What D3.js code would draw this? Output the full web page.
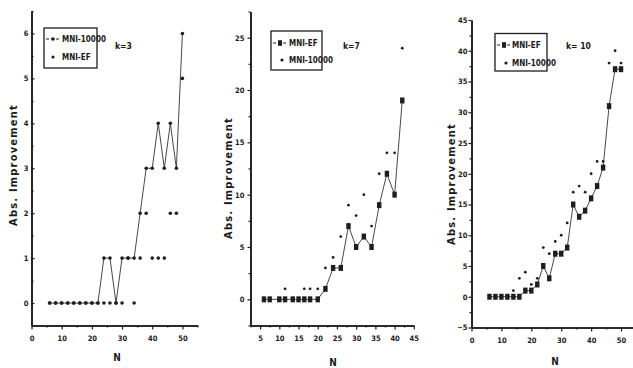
<!DOCTYPE html>
<html><head><meta charset="utf-8">
<script src="https://cdn.jsdelivr.net/npm/d3@7"></script>
<style>
html,body{margin:0;padding:0;background:#fff;}
svg text{font-family:"Liberation Sans Narrow","DejaVu Sans Condensed","Liberation Sans",sans-serif;font-weight:bold;fill:#1a1a1a;}
</style></head>
<body>
<svg id="chart" width="633" height="368"></svg>
<script>
// ---------- DATA ----------
// Panel k=3
const k3X = [6,8,10,12,14,16,18,20,22,24,26,28,30,32,34,36,38,40,42,44,46,48,50];
const k3MNI10000 = [0,0,0,0,0,0,0,0,0,1,1,0,1,1,1,2,3,3,4,3,4,3,6];
const k3MNIEF    = [0,0,0,0,0,0,0,0,0,0,0,0,0,1,0,1,2,1,1,1,2,2,5];
const k3Legend = ["MNI-10000","MNI-EF"];

// Panel k=7
const k7LineX = [6,7.5,10,11.5,13.5,15,16.5,18,20,22,24,26,28,30,32,34,36,38,40,42];
const k7MNIEF = [0,0,0,0,0,0,0,0,0,1,3,3,7,5,6,5,9,12,10,19];
const k7DotX  = [6,7.5,10,11.5,13.5,15,16.5,18,20,22,24,26,28,30,32,34,36,38,40,42];
const k7MNI10000 = [0,0,0,1,0,0,1,1,1,3,4,6,9,8,10,7,12,14,14,24];
const k7Legend = ["MNI-EF","MNI-10000"];

// Panel k=10
const k10X = [6,8,10,12,14,16,18,20,22,24,26,28,30,32,34,36,38,40,42,44,46,48,50];
const k10MNIEF    = [0,0,0,0,0,0,1,1,2,5,3,7,7,8,15,13,14,16,18,21,31,37,37];
const k10MNI10000 = [0,0,0,0,1,3,4,2,3,8,7,9,10,12,17,18,17,20,22,22,38,40,38];
const k10Legend = ["MNI-EF","MNI-10000"];

// Tick values
const k3XTicks = [0,10,20,30,40,50], k3XMinor = [5,15,25,35,45,55];
const k3YTicks = [0,1,2,3,4,5,6], k3YMinor = [-0.5,0.5,1.5,2.5,3.5,4.5,5.5,6.5];
const k7XTicks = [5,10,15,20,25,30,35,40,45], k7XMinor = [2.5,7.5,12.5,17.5,22.5,27.5,32.5,37.5,42.5];
const k7YTicks = [0,5,10,15,20,25], k7YMinor = [-2.5,2.5,7.5,12.5,17.5,22.5,27.5];
const k10XTicks = [0,10,20,30,40,50], k10XMinor = [5,15,25,35,45];
const k10YTicks = [-5,0,5,10,15,20,25,30,35,40,45], k10YMinor = [-2.5,2.5,7.5,12.5,17.5,22.5,27.5,32.5,37.5,42.5];

const panelTitles = ["k=3","k=7","k= 10"];
const yTitle = "Abs. Improvement";
const xTitle = "N";

// ---------- DRAW ----------
const svg = d3.select("#chart");
const ink = "#1e1e1e";

function panel(cfg){
  const g = svg.append("g");
  const x = d3.scaleLinear().domain(cfg.xDom).range(cfg.xRange);
  const y = d3.scaleLinear().domain(cfg.yDom).range(cfg.yRange);
  const yBase = cfg.yRange[0], xBase = cfg.xRange[0];

  // axes
  g.append("g").attr("transform",`translate(0,${yBase})`)
    .call(d3.axisBottom(x).tickValues(cfg.xTicks).tickSize(4).tickSizeOuter(0).tickPadding(cfg.xPad).tickFormat(d3.format("d")));
  g.append("g").attr("transform",`translate(0,${yBase})`)
    .call(d3.axisBottom(x).tickValues(cfg.xMinor).tickSize(2).tickSizeOuter(0).tickFormat(""));
  g.append("g").attr("transform",`translate(${xBase},0)`)
    .call(d3.axisLeft(y).tickValues(cfg.yTicks).tickSize(cfg.yTick).tickSizeOuter(0).tickPadding(cfg.yPad).tickFormat(d3.format("d")));
  g.append("g").attr("transform",`translate(${xBase},0)`)
    .call(d3.axisLeft(y).tickValues(cfg.yMinor).tickSize(cfg.yTick>0?2:-2).tickSizeOuter(0).tickFormat(""));
  g.selectAll(".domain").attr("stroke",ink).attr("stroke-width",1.6);
  g.selectAll(".tick line").attr("stroke",ink).attr("stroke-width",1.2);
  g.selectAll(".tick text").attr("font-size",7.5).attr("fill",ink);

  // line series
  const line = d3.line().x((d,i)=>x(cfg.lineX[i])).y(d=>y(d));
  g.append("path").datum(cfg.lineY).attr("d",line)
    .attr("fill","none").attr("stroke","#333").attr("stroke-width",0.9);
  if(cfg.square){
    g.selectAll(".sq").data(cfg.lineY).join("rect")
      .attr("x",(d,i)=>x(cfg.lineX[i])-2.2).attr("y",d=>y(d)-3)
      .attr("width",4.4).attr("height",6).attr("fill",ink);
  } else {
    g.selectAll(".ld").data(cfg.lineY).join("circle")
      .attr("cx",(d,i)=>x(cfg.lineX[i])).attr("cy",d=>y(d)).attr("r",1.8).attr("fill",ink);
  }
  // scatter series
  g.selectAll(".sd").data(cfg.dotY).join("circle")
    .attr("cx",(d,i)=>x(cfg.dotX[i])).attr("cy",d=>y(d)).attr("r",cfg.square?1.4:1.8).attr("fill",ink);

  // legend
  const L = cfg.legend;
  g.append("rect").attr("x",L.x).attr("y",L.y).attr("width",L.w).attr("height",L.h)
    .attr("fill","#fff").attr("stroke",ink).attr("stroke-width",1.3);
  const sx = L.sym, y1 = L.y+L.r1, y2 = L.y+L.r2;
  g.append("line").attr("x1",sx-7).attr("x2",sx+7).attr("y1",y1).attr("y2",y1)
    .attr("stroke",ink).attr("stroke-width",1).attr("stroke-dasharray","3,2");
  if(cfg.square) g.append("rect").attr("x",sx-2).attr("y",y1-2.8).attr("width",4).attr("height",5.6).attr("fill",ink);
  else g.append("circle").attr("cx",sx).attr("cy",y1).attr("r",1.8).attr("fill",ink);
  g.append("circle").attr("cx",sx+(cfg.square?2:0)).attr("cy",y2).attr("r",1.6).attr("fill",ink);
  g.append("text").attr("x",L.tx).attr("y",y1+3).attr("font-size",8).text(cfg.names[0]);
  g.append("text").attr("x",L.tx).attr("y",y2+3).attr("font-size",8).text(cfg.names[1]);

  // k label
  g.append("text").attr("x",cfg.kPos[0]).attr("y",cfg.kPos[1]).attr("font-size",8.5).text(cfg.title);
  // axis titles
  g.append("text").attr("transform",`translate(${cfg.yTitlePos[0]},${cfg.yTitlePos[1]}) rotate(-90)`)
    .attr("text-anchor","middle").attr("font-size",11).attr("letter-spacing",1.2).text(yTitle);
  g.append("text").attr("x",cfg.xTitlePos[0]).attr("y",cfg.xTitlePos[1]).attr("text-anchor","middle")
    .attr("font-size",10).text(xTitle);
}

panel({
  xDom:[0,55], xRange:[31.5,197.5], yDom:[-0.5,6.5], yRange:[325.5,11],
  xTicks:k3XTicks, xMinor:k3XMinor, yTicks:k3YTicks, yMinor:k3YMinor,
  xPad:6, yTick:-3, yPad:3,
  lineX:k3X, lineY:k3MNI10000, dotX:k3X, dotY:k3MNIEF, square:false,
  legend:{x:44,y:28,w:53,h:40,r1:11,r2:29,sym:53,tx:62},
  names:k3Legend, title:panelTitles[0], kPos:[115,49],
  yTitlePos:[17,165], xTitlePos:[117,361]
});
panel({
  xDom:[2.5,45], xRange:[250.5,413.8], yDom:[-2.5,27.5], yRange:[325.5,11.5],
  xTicks:k7XTicks, xMinor:k7XMinor, yTicks:k7YTicks, yMinor:k7YMinor,
  xPad:6, yTick:3, yPad:3,
  lineX:k7LineX, lineY:k7MNIEF, dotX:k7DotX, dotY:k7MNI10000, square:true,
  legend:{x:271,y:31,w:51,h:39,r1:12,r2:29,sym:280,tx:289},
  names:k7Legend, title:panelTitles[1], kPos:[343,49],
  yTitlePos:[232,178], xTitlePos:[333,366]
});
panel({
  xDom:[0,54], xRange:[471.5,633], yDom:[-5,45], yRange:[327.5,20],
  xTicks:k10XTicks, xMinor:k10XMinor, yTicks:k10YTicks, yMinor:k10YMinor,
  xPad:6, yTick:3, yPad:1,
  lineX:k10X, lineY:k10MNIEF, dotX:k10X, dotY:k10MNI10000, square:true,
  legend:{x:495,y:33.5,w:52,h:37.5,r1:11.5,r2:29.5,sym:504,tx:512},
  names:k10Legend, title:panelTitles[2], kPos:[566,49],
  yTitlePos:[455,184], xTitlePos:[555,365]
});
</script>
</body></html>
